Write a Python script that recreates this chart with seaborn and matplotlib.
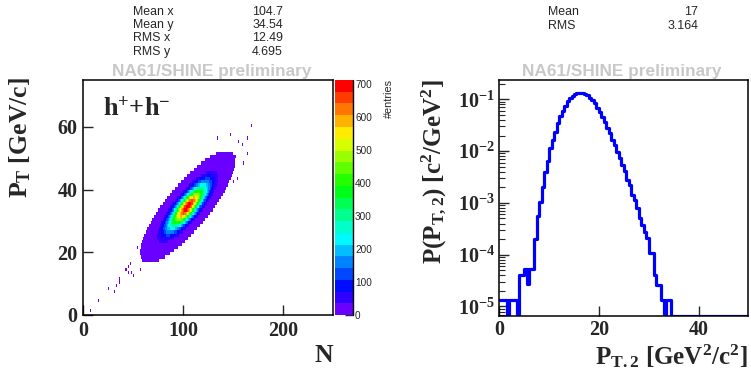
import numpy as np
import pandas as pd
import matplotlib
matplotlib.use("Agg")
import matplotlib.pyplot as plt
from matplotlib.colors import ListedColormap, hsv_to_rgb
from matplotlib.ticker import FixedLocator, LogLocator, NullFormatter
import seaborn as sns

# ---------------- multiplicity N vs. total P_T (2D histogram) ----------------
MEAN_X, MEAN_Y = 104.7, 34.54
RMS_X, RMS_Y = 12.49, 4.695
CORR_XY = 0.82
N_EVENTS = 148600
N_EDGES = np.arange(0, 251, 1.0)
PT_EDGES = np.arange(0, 76, 1.0)

# isolated single-entry cells away from the core
sparse_n = [7, 15, 25, 31, 33, 36, 36, 42, 43, 45, 45, 47, 48, 50, 57, 54,
            134, 147, 155, 159, 160, 164, 164, 168, 150, 149, 154, 152]
sparse_pt = [1, 4, 8, 7, 9, 11, 10, 14, 14, 15, 13, 16, 13, 12, 14, 21,
             56, 57, 55, 54, 48, 56, 51, 60, 42, 46, 43, 50]

stats_2d_names = ["Mean x", "Mean y", "RMS x", "RMS y"]
stats_2d_values = ["104.7", "34.54", "12.49", "4.695"]

# ---------------- P_T,2 probability density (bin width 0.5) ----------------
PT2_EDGES = [0.5 * i for i in range(101)]
pt2_density = [
    1.33e-5, 1.33e-5, 1.33e-5, 0.0, 1.33e-5, 1.33e-5, 1.33e-5, 0.0,
    4.0e-5, 4.0e-5, 5.3e-5, 2.7e-5, 5.3e-5, 5.3e-5,
    2.0e-4, 5.6e-4, 1.05e-3, 2.06e-3, 3.9e-3, 6.4e-3, 1.13e-2, 1.64e-2,
    2.37e-2, 3.44e-2, 4.83e-2, 5.94e-2, 7.53e-2, 9.27e-2, 0.1045, 0.117,
    0.126, 0.130, 0.131, 0.130, 0.126, 0.121, 0.107, 0.0969, 0.0837,
    0.0689, 0.0577, 0.0462, 0.036, 0.0275, 0.0221, 0.0164, 0.0131,
    0.00975, 0.00726, 0.0054, 0.00413, 0.00277, 0.00222, 0.00142,
    0.00114, 7.9e-4, 5.0e-4, 3.7e-4, 2.8e-4, 2.07e-4, 1.06e-4, 1.06e-4,
    4.07e-5, 2.6e-5, 2.6e-5, 1.33e-5, 0.0, 1.33e-5, 1.33e-5,
] + [0.0] * 31
stats_1d_names = ["Mean", "RMS"]
stats_1d_values = ["17", "3.164"]

# ---------------- style ----------------
sns.set_style("ticks")
plt.rcParams["font.family"] = ["Liberation Serif", "DejaVu Serif"]
plt.rcParams["font.weight"] = "bold"
plt.rcParams["mathtext.fontset"] = "custom"
plt.rcParams["mathtext.rm"] = "Liberation Serif:bold"
plt.rcParams["mathtext.bf"] = "Liberation Serif:bold"
plt.rcParams["mathtext.it"] = "Liberation Serif:bold"
plt.rcParams["axes.linewidth"] = 1.1

W, H = 751, 369
fig = plt.figure(figsize=(W / 100, H / 100), dpi=100)
fx = lambda px: px / W
fy = lambda py: 1 - py / H

ax1 = fig.add_axes([fx(83), fy(315), 250 / W, 235 / H])
cax = fig.add_axes([fx(335), fy(315), 18 / W, 235 / H])
ax2 = fig.add_axes([fx(499.3), fy(315.5), 249 / W, 235.5 / H])

# 20-band rainbow palette, violet -> red
hues = np.linspace(265, 0, 20) / 360.0
band_colors = hsv_to_rgb(np.column_stack([hues, np.ones(20), np.ones(20)]))
rainbow = ListedColormap(band_colors)
Z_MAX = 712

# expected entries per cell from the printed moments
xc = 0.5 * (N_EDGES[:-1] + N_EDGES[1:])
yc = 0.5 * (PT_EDGES[:-1] + PT_EDGES[1:])
XX, YY = np.meshgrid(xc, yc, indexing="ij")
u = (XX - MEAN_X) / RMS_X
v = (YY - MEAN_Y) / RMS_Y
q = (u * u - 2 * CORR_XY * u * v + v * v) / (1 - CORR_XY ** 2)
norm_c = N_EVENTS / (2 * np.pi * RMS_X * RMS_Y * np.sqrt(1 - CORR_XY ** 2))
counts = np.rint(norm_c * np.exp(-0.5 * q))
for n, p in zip(sparse_n, sparse_pt):
    i, j = int(n), int(p)
    counts[i, j] = max(counts[i, j], 1)

mask = counts > 0
df2 = pd.DataFrame({"N": XX[mask], "PT": YY[mask], "entries": counts[mask]})
sns.histplot(data=df2, x="N", y="PT", weights="entries",
             bins=(list(N_EDGES), list(PT_EDGES)), cmap=rainbow, vmin=0,
             vmax=Z_MAX, cbar=True, cbar_ax=cax, ax=ax1)
ax1.set_xlim(0, 250)
ax1.set_ylim(0, 75)
ax1.set_xlabel("")
ax1.set_ylabel("")
ax1.xaxis.set_major_locator(FixedLocator([0, 100, 200]))
ax1.yaxis.set_major_locator(FixedLocator([0, 20, 40, 60]))
ax1.tick_params(direction="in", length=7, width=1, labelsize=14.5, pad=4,
                top=False, right=False)
for s in ax1.spines.values():
    s.set_visible(True)
    s.set_color("black")

# colour scale
cbar = ax1.collections[0].colorbar
cbar.set_ticks(np.arange(0, 701, 100))
cbar.outline.set_visible(False)
cax.tick_params(direction="in", length=6, width=1, labelsize=7.2, pad=1.5,
                right=True, left=False)
for lab in cax.get_yticklabels():
    lab.set_fontfamily("Liberation Sans")
    lab.set_fontweight("normal")
cax.plot([1, 1], [0, Z_MAX], color="black", lw=1, clip_on=False)
fig.text(fx(388.5), fy(78.5), "#entries", rotation=90, ha="center", va="top",
         family="Liberation Sans", weight="normal", size=7.8)

# P_T,2 distribution
Y_MIN, Y_MAX = 6.7e-6, 0.236
centers = [0.5 * (a + b) for a, b in zip(PT2_EDGES[:-1], PT2_EDGES[1:])]
df1 = pd.DataFrame({"pt2": centers, "p": np.maximum(pt2_density, Y_MIN)})
sns.histplot(data=df1, x="pt2", weights="p", bins=PT2_EDGES, element="step",
             fill=False, color="#0000ff", linewidth=2.3, ax=ax2)
ax2.set_yscale("log")
ax2.set_xlim(0, 50)
ax2.set_ylim(Y_MIN, Y_MAX)
ax2.set_xlabel("")
ax2.set_ylabel("")
ax2.xaxis.set_major_locator(FixedLocator([0, 20, 40]))
ax2.yaxis.set_major_locator(LogLocator(base=10, numticks=10))
ax2.yaxis.set_minor_locator(LogLocator(base=10, subs=np.arange(2, 10), numticks=20))
ax2.yaxis.set_minor_formatter(NullFormatter())
ax2.tick_params(which="major", direction="in", length=7, width=1,
                labelsize=14.5, pad=3, top=False, right=False)
ax2.tick_params(which="minor", direction="in", length=4, width=0.8,
                top=False, right=False)
for s in ax2.spines.values():
    s.set_visible(True)
    s.set_color("black")

# axis titles
fig.text(fx(20), fy(77), r"P$_\mathrm{T}$ [GeV/c]", rotation=90, ha="center",
         va="top", size=18.5)
fig.text(fx(333), fy(356), "N", ha="right", va="center", size=18.5)
fig.text(fx(434), fy(79), r"P(P$_\mathrm{T,2}$) [c$^2$/GeV$^2$]", rotation=90,
         ha="center", va="top", size=18)
fig.text(fx(748), fy(356), r"P$_\mathrm{T.2}$ [GeV$^2$/c$^2$]", ha="right",
         va="center", size=18)
fig.text(fx(103), fy(109), r"h$^{+}$+h$^{-}$", ha="left", va="center", size=19)

# statistics boxes
for k, (name, val) in enumerate(zip(stats_2d_names, stats_2d_values)):
    y = 11.7 + 13.35 * k
    fig.text(fx(133), fy(y), name, ha="left", va="center",
             family="Liberation Sans", weight="normal", size=8.9)
    fig.text(fx(283), fy(y), val, ha="right", va="center",
             family="Liberation Sans", weight="normal", size=8.9)
for k, (name, val) in enumerate(zip(stats_1d_names, stats_1d_values)):
    y = 11.7 + 14.3 * k
    fig.text(fx(548), fy(y), name, ha="left", va="center",
             family="Liberation Sans", weight="normal", size=8.9)
    fig.text(fx(698), fy(y), val, ha="right", va="center",
             family="Liberation Sans", weight="normal", size=8.9)

for xc_ in (212, 621.7):
    fig.text(fx(xc_), fy(71.5), "NA61/SHINE preliminary", ha="center",
             va="center", family="Liberation Sans", weight="bold", size=12.4,
             color="#c8c8c8")

fig.savefig("out.png", dpi=100)
